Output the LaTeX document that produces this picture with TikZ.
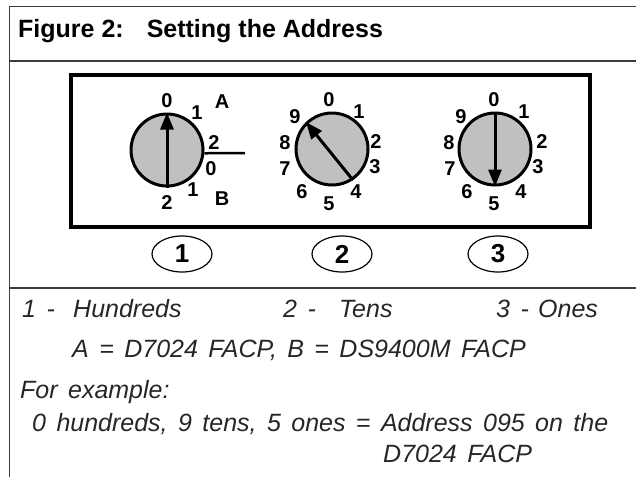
\documentclass[tikz,border=0pt]{standalone}
\usepackage{fontspec}
\setmainfont{Liberation Sans}
\newfontfamily\notefont{Liberation Sans}[WordSpace=1.5]
\usetikzlibrary{arrows.meta,shapes.geometric}
\definecolor{dialgray}{RGB}{192,192,192}
\definecolor{framegray}{RGB}{60,60,60}
\tikzset{
  frame/.style={draw=framegray, line width=1.6pt},
  dial/.style={circle, draw, line width=3pt, fill=dialgray, minimum size=72pt, inner sep=0pt},
  digit/.style={inner sep=0pt, font=\fontsize{20}{20}\selectfont\bfseries},
  pointer/.style={line width=3pt, -{Triangle[length=17pt,width=13pt]}},
  tag/.style={ellipse, draw, line width=1.2pt, minimum width=60pt, minimum height=36pt, inner sep=0pt, font=\fontsize{26}{26}\selectfont\bfseries},
  note/.style={anchor=base west, inner sep=0pt, text=black!85, font=\fontsize{25}{30}\selectfont\notefont\itshape}
}
\begin{document}
\begin{tikzpicture}[x=1pt, y=-1pt]
            \useasboundingbox (0,0) rectangle (636,477);
            \draw[frame] (636,6.5) -- (9.5,6.5) -- (9.5,477);
            \draw[frame] (9.5,61) -- (636,61);
            \draw[frame] (9.5,288) -- (636,288);
            \node[anchor=base west, inner sep=0pt, font=\fontsize{25}{30}\selectfont\bfseries] (title) at (18,37) {Figure 2:\hspace{23pt}Setting the Address};
            \draw[line width=3.5pt] (71,75) rectangle (590,227);
            \node[dial] (d1) at (167,150) {};
            \node[dial] (d2) at (332,149) {};
            \node[dial] (d3) at (495,149) {};
            \draw[pointer] (d1.south) to (d1.north);
            \draw[pointer] (d2.-56) to (d2.134);
            \draw[pointer] (d3.north) to (d3.south);
            \coordinate (s1) at (245,153);
            \draw[line width=2.5pt] (d1.-5) to (s1);
            \node[digit] (a0) at (167,101) {0};
            \node[digit] (a1) at (197,113) {1};
            \node[digit] (a2) at (214,143) {2};
            \node[digit] (b0) at (211,169) {0};
            \node[digit] (b1) at (193,190) {1};
            \node[digit] (b2) at (167,203) {2};
            \node[digit] (ma) at (222,102) {A};
            \node[digit] (mb) at (222,199) {B};
            \node[digit] (t0) at (329,100) {0};
            \node[digit] (t1) at (359,112) {1};
            \node[digit] (t2) at (376,142) {2};
            \node[digit] (t3) at (375,167) {3};
            \node[digit] (t4) at (356,192) {4};
            \node[digit] (t5) at (329,204) {5};
            \node[digit] (t6) at (302,192) {6};
            \node[digit] (t7) at (285,169) {7};
            \node[digit] (t8) at (285,143) {8};
            \node[digit] (t9) at (295,117) {9};
            \node[digit] (o0) at (494,100) {0};
            \node[digit] (o1) at (524,112) {1};
            \node[digit] (o2) at (542,142) {2};
            \node[digit] (o3) at (538,167) {3};
            \node[digit] (o4) at (521,192) {4};
            \node[digit] (o5) at (494,204) {5};
            \node[digit] (o6) at (467,192) {6};
            \node[digit] (o7) at (450,169) {7};
            \node[digit] (o8) at (449,143) {8};
            \node[digit] (o9) at (461,117) {9};
            \node[tag] (k1) at (182,254) {1};
            \node[tag] (k2) at (342,254) {2};
            \node[tag] (k3) at (498,254) {3};
            \node[note] (n1) at (22,317) {1 -};
            \node[note] (w1) at (73,317) {Hundreds};
            \node[note] (n2) at (283,317) {2 -};
            \node[note] (w2) at (339,317) {Tens};
            \node[note] (n3) at (496,317) {3 -};
            \node[note] (w3) at (538,317) {Ones};
            \node[note] (ab) at (72,357) {A = D7024 FACP, B = DS9400M FACP};
            \node[note] (fe) at (20,398) {For example:};
            \node[note] (ex1) at (32,431) {0 hundreds, 9 tens, 5 ones = Address 095 on the};
            \node[note] (ex2) at (383,462) {D7024 FACP};
        \end{tikzpicture}
\end{document}
